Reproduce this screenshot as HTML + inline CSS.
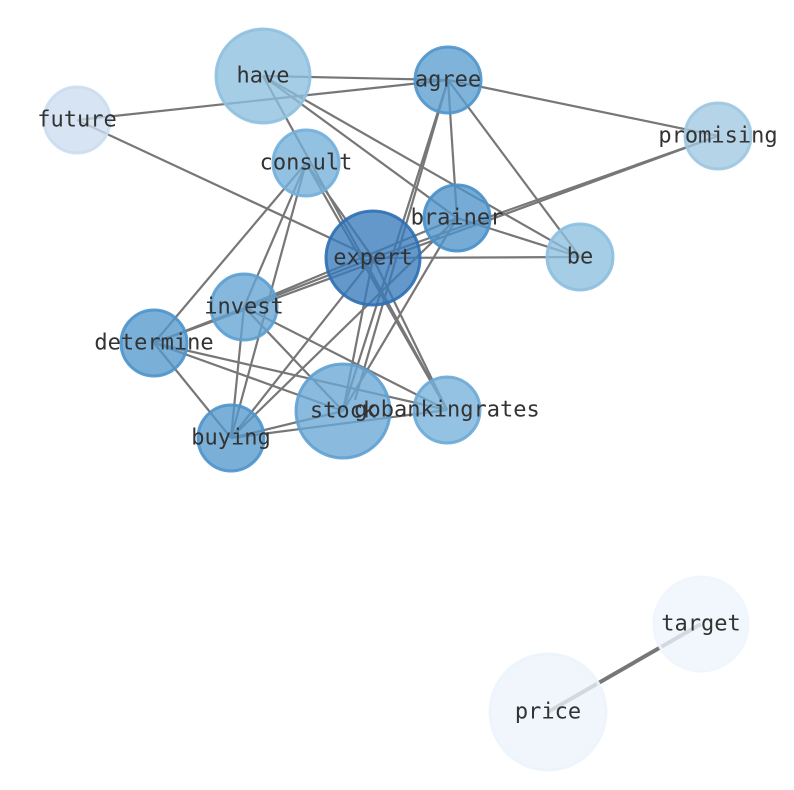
<!DOCTYPE html>
<html><head><style>body{margin:0;background:#fff}svg{display:block}</style></head><body>
<svg width="794" height="790" xmlns="http://www.w3.org/2000/svg">
<g stroke="#777" stroke-width="2.2">
<line x1="263" y1="76" x2="448" y2="80"/>
<line x1="263" y1="76" x2="457" y2="218"/>
<line x1="263" y1="76" x2="580" y2="257"/>
<line x1="263" y1="76" x2="447" y2="410"/>
<line x1="448" y1="80" x2="77" y2="120"/>
<line x1="448" y1="80" x2="718" y2="136"/>
<line x1="448" y1="80" x2="457" y2="218"/>
<line x1="448" y1="80" x2="580" y2="257"/>
<line x1="448" y1="80" x2="343" y2="411"/>
<line x1="448" y1="80" x2="355" y2="400"/>
<line x1="77" y1="120" x2="373" y2="258"/>
<line x1="718" y1="136" x2="373" y2="258"/>
<line x1="718" y1="136" x2="154" y2="343"/>
<line x1="457" y1="218" x2="580" y2="257"/>
<line x1="457" y1="218" x2="343" y2="411"/>
<line x1="457" y1="218" x2="231" y2="438"/>
<line x1="457" y1="218" x2="244" y2="307"/>
<line x1="373" y1="258" x2="580" y2="257"/>
<line x1="306" y1="163" x2="373" y2="258"/>
<line x1="306" y1="163" x2="447" y2="410"/>
<line x1="306" y1="163" x2="154" y2="343"/>
<line x1="306" y1="163" x2="244" y2="307"/>
<line x1="306" y1="163" x2="231" y2="438"/>
<line x1="373" y1="258" x2="154" y2="343"/>
<line x1="373" y1="258" x2="231" y2="438"/>
<line x1="373" y1="258" x2="343" y2="411"/>
<line x1="373" y1="258" x2="447" y2="410"/>
<line x1="244" y1="307" x2="231" y2="438"/>
<line x1="244" y1="307" x2="343" y2="411"/>
<line x1="244" y1="307" x2="447" y2="410"/>
<line x1="154" y1="343" x2="231" y2="438"/>
<line x1="154" y1="343" x2="343" y2="411"/>
<line x1="154" y1="343" x2="447" y2="410"/>
<line x1="231" y1="438" x2="447" y2="410"/>
<line x1="231" y1="438" x2="343" y2="411"/>
<line x1="701" y1="624" x2="548" y2="712" stroke-width="4"/>
</g>
<g stroke-width="3" fill-opacity="0.78" stroke-opacity="0.9">
<circle cx="263" cy="76" r="47" fill="#8cbfdf" stroke="#8ec0e0"/>
<circle cx="448" cy="80" r="33" fill="#5c9dcf" stroke="#4f95cb"/>
<circle cx="77" cy="120" r="33" fill="#cbdcef" stroke="#ccddef"/>
<circle cx="718" cy="136" r="33" fill="#a0c8e2" stroke="#9cc6e2"/>
<circle cx="306" cy="163" r="33" fill="#74b0da" stroke="#72afda"/>
<circle cx="457" cy="218" r="33" fill="#4f93cb" stroke="#4890c9"/>
<circle cx="373" cy="258" r="47" fill="#3a7bbb" stroke="#2e6fb3"/>
<circle cx="580" cy="257" r="33" fill="#8cbfdf" stroke="#8cbfdf"/>
<circle cx="244" cy="307" r="33" fill="#64a4d3" stroke="#5a9ed1"/>
<circle cx="154" cy="343" r="33" fill="#5598cd" stroke="#4d93cb"/>
<circle cx="343" cy="411" r="47" fill="#69a7d4" stroke="#5fa1d2"/>
<circle cx="447" cy="410" r="33" fill="#76b1da" stroke="#6aaad7"/>
<circle cx="231" cy="438" r="33" fill="#5598cd" stroke="#4d93cb"/>
<circle cx="701" cy="624" r="47" fill="#eef5fc" stroke="#eef5fc"/>
<circle cx="548" cy="712" r="58" fill="#ecf4fb" stroke="#ecf4fb"/>
</g>
<g font-family="'DejaVu Sans Mono',monospace" font-size="22" fill="#333" text-anchor="middle" dominant-baseline="central">
<text x="263" y="76">have</text>
<text x="448" y="80">agree</text>
<text x="77" y="120">future</text>
<text x="718" y="136">promising</text>
<text x="306" y="163">consult</text>
<text x="457" y="218">brainer</text>
<text x="373" y="258">expert</text>
<text x="580" y="257">be</text>
<text x="244" y="307">invest</text>
<text x="154" y="343">determine</text>
<text x="343" y="411">stock</text>
<text x="447" y="410">gobankingrates</text>
<text x="231" y="438">buying</text>
<text x="701" y="624">target</text>
<text x="548" y="712">price</text>
</g>
</svg>
</body></html>
